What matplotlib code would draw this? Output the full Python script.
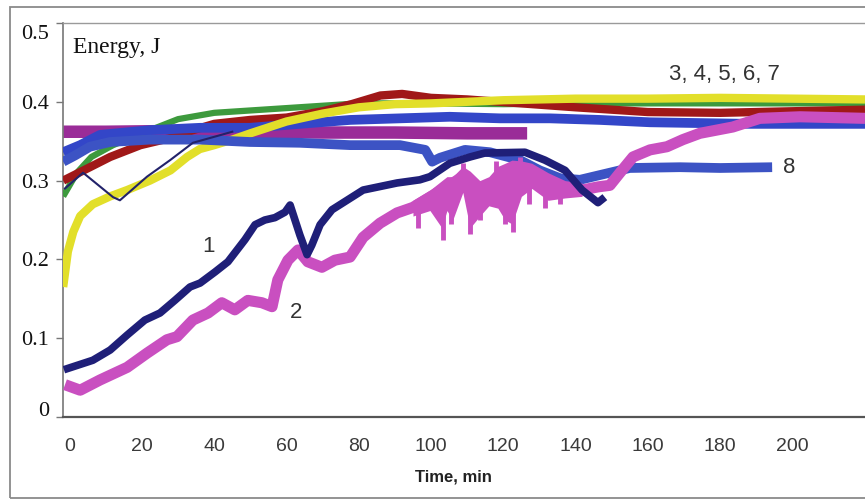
import matplotlib
matplotlib.use("Agg")
import matplotlib.pyplot as plt
from matplotlib.patches import Rectangle
from matplotlib.transforms import ScaledTranslation

# ---------------- data ----------------
x_ticks = [0, 20, 40, 60, 80, 100, 120, 140, 160, 180, 200]
y_ticks = [0, 0.1, 0.2, 0.3, 0.4, 0.5]
y_ticklabels = ["0", "0.1", "0.2", "0.3", "0.4", "0.5"]

# curve 1 (navy)
t1 = [-1.6, 6.4, 11.2, 15.9, 20.8, 25.0, 29.1, 33.3, 36.1, 40.2, 43.8, 48.5, 51.3, 54.0,
      56.8, 59.6, 61.0, 63.7, 65.7, 67.0, 69.3, 72.6, 81.2, 90.6, 96.9, 99.7, 105.2,
      110.8, 114.9, 126.0, 131.5, 137.1, 141.8, 146.2, 148.1]
e1 = [0.060, 0.072, 0.085, 0.104, 0.123, 0.132, 0.148, 0.165, 0.170, 0.184, 0.197, 0.225,
      0.244, 0.250, 0.253, 0.260, 0.269, 0.231, 0.206, 0.218, 0.244, 0.263, 0.288, 0.297,
      0.301, 0.305, 0.322, 0.330, 0.335, 0.336, 0.326, 0.313, 0.288, 0.272, 0.279]

# curve 2 (magenta)
t2 = [-1.3, 2.9, 8.4, 15.9, 21.4, 26.9, 29.7, 34.1, 38.3, 42.1, 45.7, 49.3, 53.2, 56.0,
      57.6, 60.4, 63.2, 65.9, 69.8, 73.4, 77.6, 81.2, 85.9, 90.6, 95.0, 99.7, 104.4,
      108.8, 113.5, 118.5, 122.4, 127.9, 132.4, 137.1, 141.8, 146.2, 149.5, 152.3, 155.9,
      160.6, 165.3, 169.7, 174.4, 183.5, 191.0, 202.1, 220.1]
e2 = [0.041, 0.034, 0.047, 0.063, 0.081, 0.098, 0.102, 0.123, 0.132, 0.145, 0.136, 0.148,
      0.145, 0.140, 0.174, 0.199, 0.212, 0.197, 0.190, 0.199, 0.203, 0.228, 0.246, 0.259,
      0.266, 0.279, 0.292, 0.305, 0.280, 0.292, 0.301, 0.311, 0.297, 0.291, 0.288, 0.292,
      0.294, 0.310, 0.330, 0.339, 0.343, 0.352, 0.360, 0.368, 0.379, 0.381, 0.379]
# curve 2 noisy envelope in the 95-142 min stretch
t2_env = [95.0, 99.7, 103.0, 104.4, 106.0, 108.8, 110.8, 113.5, 116.0, 118.5, 120.5,
          122.4, 125.0, 127.9, 132.4, 137.1, 141.8]
hi2_env = [0.275, 0.288, 0.300, 0.305, 0.305, 0.318, 0.312, 0.300, 0.305, 0.318, 0.322,
           0.326, 0.325, 0.322, 0.310, 0.300, 0.297]
lo2_env = [0.255, 0.262, 0.240, 0.262, 0.250, 0.285, 0.240, 0.255, 0.268, 0.265, 0.250,
           0.245, 0.280, 0.290, 0.275, 0.278, 0.280]
# curve 2 spikes: time, low, high
t2_sp = [96.5, 103.3, 105.5, 108.8, 110.8, 113.5, 118.0, 120.5, 122.8, 124.5, 127.0, 131.5, 135.7]
lo2_sp = [0.240, 0.225, 0.245, 0.295, 0.232, 0.250, 0.285, 0.245, 0.235, 0.300, 0.270, 0.265, 0.270]
hi2_sp = [0.275, 0.295, 0.300, 0.322, 0.305, 0.300, 0.325, 0.310, 0.315, 0.330, 0.318, 0.305, 0.295]

# curve 3 (yellow)
t3 = [-1.8, -0.5, 1.0, 2.9, 6.4, 11.2, 15.9, 22.2, 27.9, 32.5, 36.0, 40.0, 45.0, 50.0,
      60.0, 70.0, 80.0, 90.0, 100.0, 120.0, 140.0, 160.0, 180.0, 200.0, 220.1]
e3 = [0.165, 0.210, 0.235, 0.255, 0.270, 0.280, 0.288, 0.300, 0.313, 0.330, 0.340, 0.345,
      0.352, 0.360, 0.375, 0.385, 0.393, 0.397, 0.398, 0.402, 0.404, 0.404, 0.405, 0.404, 0.403]

# curve 4 (green)
t4 = [-1.8, 2.0, 6.0, 12.0, 20.0, 30.0, 40.0, 60.0, 80.0, 100.0, 120.0, 140.0, 160.0,
      180.0, 200.0, 220.1]
e4 = [0.280, 0.310, 0.330, 0.345, 0.360, 0.378, 0.386, 0.392, 0.398, 0.398, 0.397, 0.398,
      0.398, 0.398, 0.398, 0.398]

# curve 5 (dark red)
t5 = [-1.8, 5.6, 11.2, 19.6, 27.9, 34.1, 40.0, 50.0, 60.0, 70.0, 78.0, 86.0, 92.0, 100.0,
      110.0, 125.0, 140.0, 160.0, 180.0, 200.0, 220.1]
e5 = [0.300, 0.317, 0.330, 0.345, 0.354, 0.364, 0.372, 0.377, 0.380, 0.388, 0.397, 0.408,
      0.410, 0.405, 0.403, 0.398, 0.393, 0.387, 0.386, 0.388, 0.390]

# curve 6 (purple)
t6 = [-1.8, 10.0, 30.0, 50.0, 70.0, 90.0, 110.0, 126.6]
e6 = [0.362, 0.362, 0.363, 0.362, 0.361, 0.361, 0.360, 0.360]

# curve 7 (bright blue)
t7 = [-1.8, 2.9, 8.4, 22.2, 36.1, 49.9, 63.7, 77.6, 91.4, 105.2, 119.1, 132.9, 146.7,
      160.6, 174.4, 188.3, 202.1, 220.1]
e7 = [0.336, 0.345, 0.358, 0.364, 0.367, 0.367, 0.372, 0.377, 0.379, 0.381, 0.379, 0.379,
      0.377, 0.374, 0.373, 0.372, 0.372, 0.372]

# curve 8 (royal blue)
t8 = [-1.8, 1.5, 5.6, 11.2, 22.2, 36.1, 49.9, 63.7, 77.6, 91.4, 98.4, 100.3, 102.5, 109.4,
      116.3, 124.6, 130.1, 135.7, 141.2, 146.7, 155.0, 168.9, 180.0, 194.4]
e8 = [0.324, 0.332, 0.343, 0.349, 0.352, 0.352, 0.349, 0.348, 0.345, 0.345, 0.339, 0.324,
      0.329, 0.339, 0.336, 0.326, 0.313, 0.303, 0.301, 0.307, 0.316, 0.317, 0.316, 0.317]

# thin dark trace at the start
t9 = [-1.3, 3.7, 12.0, 13.9, 21.4, 27.8, 34.1, 45.0]
e9 = [0.290, 0.310, 0.279, 0.275, 0.305, 0.326, 0.348, 0.362]

# ---------------- figure ----------------
W, H = 865, 501
fig = plt.figure(figsize=(W / 100, H / 100), dpi=100)
fig.patch.set_facecolor("white")

# outer frame
fig.patches.append(Rectangle((10 / W, 1 - 498 / H), 2.0, (498 - 7) / H,
                             transform=fig.transFigure, fill=False,
                             edgecolor="#8a8a8a", lw=1.3))

ax = fig.add_axes([63 / W, 1 - 417 / H, 1 - 63 / W, (417 - 23) / H])
ax.set_xlim(-1.85, 220.1)
ax.set_ylim(0, 0.5)

# series
ax.plot(t6, e6, color="#9a2c98", lw=9, solid_capstyle="butt", zorder=2)
ax.plot(t4, e4, color="#3d9a3d", lw=4.5, solid_capstyle="butt", zorder=3)
ax.plot(t5, e5, color="#a01818", lw=6, solid_capstyle="butt", zorder=3)
ax.plot(t3, e3, color="#e2df2a", lw=6, solid_capstyle="butt", zorder=4)
ax.plot(t7, e7, color="#3346c8", lw=7, solid_capstyle="butt", zorder=3.5)
ax.plot(t8, e8, color="#3c53c4", lw=7, solid_capstyle="butt", zorder=5)
ax.plot(t9, e9, color="#22226a", lw=1.5, zorder=6)
ax.fill_between(t2_env, lo2_env, hi2_env, color="#c94fc0", lw=0, zorder=6)
ax.plot(t2, e2, color="#c94fc0", lw=8, solid_capstyle="butt", zorder=6)
ax.vlines(t2_sp, lo2_sp, hi2_sp, color="#c94fc0", lw=3.5, zorder=6)
ax.plot(t1, e1, color="#1f1f78", lw=5.5, solid_capstyle="butt", zorder=7)

# spines
ax.spines["right"].set_visible(False)
ax.spines["top"].set_color("#9a9a9a")
ax.spines["top"].set_linewidth(1.0)
ax.spines["left"].set_color("#777777")
ax.spines["left"].set_linewidth(1.2)
ax.spines["bottom"].set_color("#555555")
ax.spines["bottom"].set_linewidth(1.6)

# ticks
ax.set_xticks(x_ticks)
ax.set_xticklabels([str(v) for v in x_ticks],
                   family=["Liberation Sans Narrow", "Liberation Sans", "DejaVu Sans"],
                   fontsize=14, color="#3a3a3a")
ax.tick_params(axis="x", length=0, pad=15)
ax.set_yticks(y_ticks)
ax.set_yticklabels(y_ticklabels, family=["Liberation Serif", "DejaVu Serif"],
                   fontsize=16, color="#111111")
ax.tick_params(axis="y", length=5, width=1, color="#777777", pad=5)
lbls = ax.get_yticklabels()
lbls[0].set_transform(lbls[0].get_transform() + ScaledTranslation(0, 8 / 100, fig.dpi_scale_trans))
lbls[-1].set_transform(lbls[-1].get_transform() + ScaledTranslation(0, -9 / 100, fig.dpi_scale_trans))

# texts
fig.text(73 / W, 1 - 53 / H, "Energy, J", family=["Liberation Serif", "DejaVu Serif"],
         fontsize=17, color="#111111", va="baseline", ha="left")
fig.text(453 / W, 1 - 477 / H, "Time, min", family=["Liberation Sans", "DejaVu Sans"],
         fontsize=12, fontweight="bold", color="#222222", ha="center", va="center")

lab_kw = dict(family=["Liberation Sans", "DejaVu Sans"], fontsize=16, color="#333333",
              ha="center", va="center", zorder=10)
ax.text(38.5, 0.217, "1", **lab_kw)
ax.text(62.6, 0.133, "2", **lab_kw)
ax.text(181.3, 0.435, "3, 4, 5, 6, 7", **lab_kw)
ax.text(199.0, 0.316, "8", **lab_kw)

fig.savefig("out.png", dpi=100)
